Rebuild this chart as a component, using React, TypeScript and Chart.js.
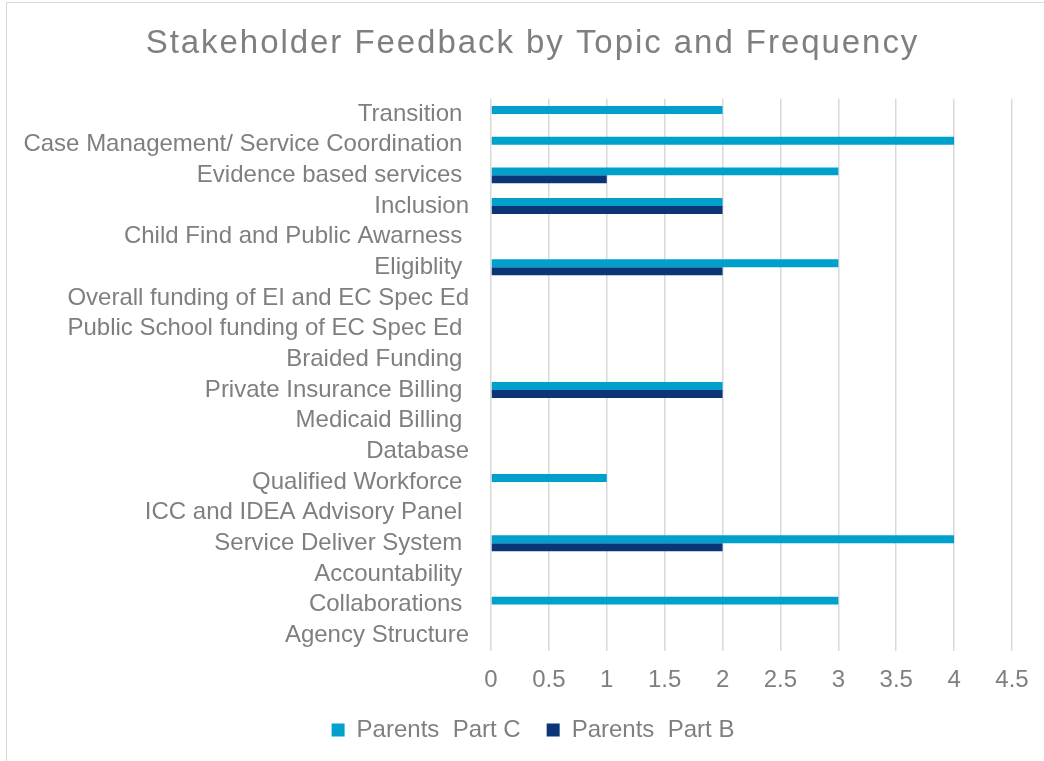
import React, { useEffect, useRef } from "react";
import { Chart, registerables } from "chart.js";

Chart.register(...registerables);

const TITLE = "Stakeholder Feedback by Topic and Frequency";

const categories = [
  "Transition ",
  "Case Management/ Service Coordination ",
  "Evidence based services ",
  "Inclusion",
  "Child Find and Public Awarness ",
  "Eligiblity ",
  "Overall funding of EI and EC Spec Ed",
  "Public School funding of EC Spec Ed ",
  "Braided Funding ",
  "Private Insurance Billing ",
  "Medicaid Billing ",
  "Database",
  "Qualified Workforce ",
  "ICC and IDEA Advisory Panel ",
  "Service Deliver System ",
  "Accountability ",
  "Collaborations ",
  "Agency Structure",
];

const partC = [2, 4, 3, 2, 0, 3, 0, 0, 0, 2, 0, 0, 1, 0, 4, 0, 3, 0];
const partB = [0, 0, 1, 2, 0, 2, 0, 0, 0, 2, 0, 0, 0, 0, 2, 0, 0, 0];

const seriesNames = ["Parents  Part C", "Parents  Part B"];
const xTicks = [0, 0.5, 1, 1.5, 2, 2.5, 3, 3.5, 4, 4.5];

const FONT = '"Liberation Sans", Arial, Helvetica, sans-serif';
const GRAY = "#7f7f7f";

const titlePlugin = {
  id: "spacedTitle",
  afterLayout(chart: any) {
    const lg = chart.legend;
    if (lg) {
      lg.left += 23.5;
      lg.right += 23.5;
    }
  },
  afterDraw(chart: any) {
    const ctx = chart.ctx;
    ctx.save();
    ctx.font = `33px ${FONT}`;
    ctx.fillStyle = GRAY;
    (ctx as any).letterSpacing = "1.95px";
    ctx.textAlign = "center";
    ctx.textBaseline = "alphabetic";
    ctx.fillText(TITLE, chart.width / 2 + 0.5, 49.5);
    ctx.restore();
  },
};

export default function App() {
  const ref = useRef<HTMLCanvasElement | null>(null);

  useEffect(() => {
    if (!ref.current) return;
    document.body.style.overflow = "hidden";
    const chart = new Chart(ref.current, {
      type: "bar",
      data: {
        labels: categories,
        datasets: [
          {
            label: seriesNames[0],
            data: partC,
            backgroundColor: "#00a0cc",
            borderWidth: 0,
            categoryPercentage: 0.52,
            barPercentage: 1,
          },
          {
            label: seriesNames[1],
            data: partB,
            backgroundColor: "#0b3577",
            borderWidth: 0,
            categoryPercentage: 0.52,
            barPercentage: 1,
          },
        ],
      },
      options: {
        indexAxis: "y",
        responsive: false,
        animation: false,
        layout: { padding: { left: 0, right: 45, top: 95.7, bottom: 9 } },
        scales: {
          x: {
            type: "linear",
            min: 0,
            max: 4.5,
            afterBuildTicks: (scale: any) => {
              scale.ticks = xTicks.map((v) => ({ value: v }));
            },
            afterFit: (scale: any) => {
              scale.height = 41.4;
            },
            grid: { color: "#d9d9d9", lineWidth: 1.5, drawTicks: false },
            border: { display: false },
            ticks: {
              color: GRAY,
              font: { family: FONT, size: 24 },
              padding: 15,
              callback: (v: any) => String(v),
            },
          },
          y: {
            type: "category",
            afterFit: (scale: any) => {
              scale.width = 484;
            },
            grid: { display: false, drawTicks: false },
            border: { display: false },
            ticks: {
              autoSkip: false,
              color: GRAY,
              font: { family: FONT, size: 24 },
              padding: 22,
            },
          },
        },
        plugins: {
          title: { display: false },
          tooltip: { enabled: false },
          legend: {
            position: "bottom",
            labels: {
              color: GRAY,
              font: { family: FONT, size: 24 },
              boxWidth: 13,
              boxHeight: 13,
              padding: 26,
            },
          },
        },
      },
      plugins: [titlePlugin],
    } as any);
    return () => chart.destroy();
  }, []);

  return (
    <div style={{ position: "fixed", left: 0, top: 0, width: 1044, height: 761, overflow: "hidden", background: "#fff" }}>
      <div
        style={{
          position: "absolute",
          left: 6,
          top: 2,
          width: 1052,
          height: 760,
          border: "1px solid #d9d9d9",
          boxSizing: "border-box",
          background: "#fff",
        }}
      >
        <canvas ref={ref} width={1050} height={758} style={{ display: "block" }} />
      </div>
    </div>
  );
}
